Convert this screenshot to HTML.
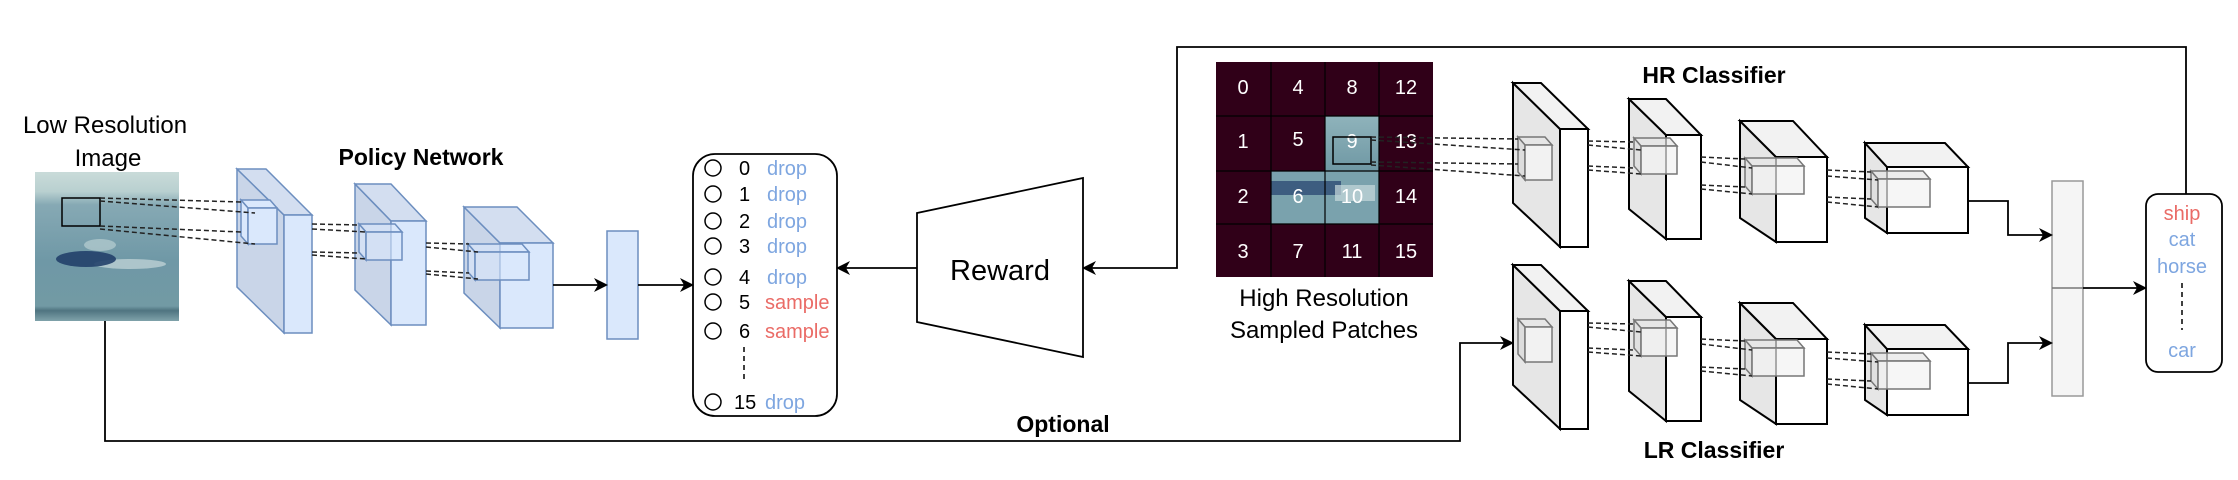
<!DOCTYPE html>
<html><head><meta charset="utf-8"><style>
html,body{margin:0;padding:0;background:#fff;width:2238px;height:480px;overflow:hidden}
svg{display:block}
text{font-family:"Liberation Sans",Arial,sans-serif}
</style></head><body>
<svg width="2238" height="480" viewBox="0 0 2238 480" xmlns="http://www.w3.org/2000/svg">
<defs>
<marker id="ah" markerWidth="14" markerHeight="14" refX="12" refY="7" orient="auto" markerUnits="userSpaceOnUse">
<path d="M0,0 L14,7 L0,14 L4,7 Z" fill="#000"/></marker>
<linearGradient id="img" x1="0" y1="0" x2="0" y2="1">
<stop offset="0" stop-color="#c9dbd9"/><stop offset="0.13" stop-color="#b9d0d0"/><stop offset="0.22" stop-color="#86a9b4"/>
<stop offset="0.6" stop-color="#6f98a6"/><stop offset="0.9" stop-color="#729aa4"/><stop offset="0.93" stop-color="#4f7480"/><stop offset="1" stop-color="#7fa2aa"/></linearGradient>
<linearGradient id="pimg" x1="0" y1="0" x2="0" y2="1">
<stop offset="0" stop-color="#8fb3bb"/><stop offset="1" stop-color="#6f98a4"/></linearGradient>
</defs>

<text x="105" y="133" font-size="24" text-anchor="middle">Low Resolution</text>
<text x="108" y="166" font-size="24" text-anchor="middle">Image</text>
<rect x="35" y="172" width="144" height="149" fill="url(#img)"/>
<ellipse cx="100" cy="245" rx="16" ry="6" fill="#b8cfd2" opacity="0.7"/>
<ellipse cx="130" cy="264" rx="36" ry="5" fill="#c7d9db" opacity="0.7"/>
<ellipse cx="86" cy="259" rx="30" ry="8" fill="#22406a" opacity="0.9"/>
<rect x="62" y="198" width="38" height="28" fill="none" stroke="#000" stroke-width="1.5"/>

<text x="421" y="165" font-size="23" font-weight="bold" text-anchor="middle">Policy Network</text>

<g stroke="#6c8ebf" stroke-width="1.5">
<polygon points="237,169 284,215 284,333 237,287" fill="#c9d5e8"/>
<polygon points="237,169 266,169 312,215 284,215" fill="#d3def0"/>
<rect x="284" y="215" width="28" height="118" fill="#dae8fc"/>
<polygon points="355,184 391,221 391,325 355,290" fill="#c9d5e8"/>
<polygon points="355,184 391,184 426,221 391,221" fill="#d3def0"/>
<rect x="391" y="221" width="35" height="104" fill="#dae8fc"/>
<polygon points="464,207 500,243 500,328 464,293" fill="#c9d5e8"/>
<polygon points="464,207 517,207 553,243 500,243" fill="#d3def0"/>
<rect x="500" y="243" width="53" height="85" fill="#dae8fc"/>
<polygon points="241,200 270,200 277,208 248,208" fill="#dae8fc"/><polygon points="241,200 248,208 248,244 241,236" fill="#dae8fc"/><rect x="248" y="208" width="29" height="36" fill="#dae8fc"/>
<polygon points="359,224 395,224 402,232 366,232" fill="#dae8fc" fill-opacity="0.6"/><polygon points="359,224 366,232 366,260 359,252" fill="#dae8fc" fill-opacity="0.6"/><rect x="366" y="232" width="36" height="28" fill="#dae8fc" fill-opacity="0.6"/>
<polygon points="468,244 522,244 529,252 475,252" fill="#dae8fc" fill-opacity="0.6"/><polygon points="468,244 475,252 475,280 468,272" fill="#dae8fc" fill-opacity="0.6"/><rect x="475" y="252" width="54" height="28" fill="#dae8fc" fill-opacity="0.6"/>
<rect x="607" y="231" width="31" height="108" fill="#dae8fc"/>
</g>

<g stroke="#222" stroke-width="1.5" stroke-dasharray="5,3" fill="none">
<line x1="100" y1="198" x2="241" y2="202"/><line x1="100" y1="201" x2="255" y2="213"/>
<line x1="100" y1="226" x2="241" y2="232"/><line x1="100" y1="229" x2="255" y2="244"/>
<line x1="312" y1="224" x2="359" y2="225"/><line x1="312" y1="229" x2="366" y2="232"/>
<line x1="312" y1="252" x2="359" y2="253"/><line x1="312" y1="255" x2="366" y2="259"/>
<line x1="426" y1="243" x2="469" y2="244"/><line x1="426" y1="247" x2="478" y2="252"/>
<line x1="426" y1="271" x2="469" y2="273"/><line x1="426" y1="274" x2="478" y2="279"/>
</g>

<g stroke="#000" stroke-width="1.8" fill="none">
<line x1="553" y1="285" x2="606" y2="285" marker-end="url(#ah)"/>
<line x1="638" y1="285" x2="692" y2="285" marker-end="url(#ah)"/>
<polyline points="105,321 105,441 1460,441 1460,343 1512,343" marker-end="url(#ah)"/>
<line x1="917" y1="268" x2="838" y2="268" marker-end="url(#ah)"/>
<polyline points="2186,194 2186,47 1177,47 1177,268 1084,268" marker-end="url(#ah)"/>
</g>

<rect x="693" y="154" width="144" height="262" rx="22" fill="none" stroke="#000" stroke-width="1.8"/>
<g fill="none" stroke="#000" stroke-width="1.5">
<circle cx="713" cy="168" r="8"/><circle cx="713" cy="194" r="8"/><circle cx="713" cy="221" r="8"/><circle cx="713" cy="246" r="8"/>
<circle cx="713" cy="277" r="8"/><circle cx="713" cy="302" r="8"/><circle cx="713" cy="331" r="8"/><circle cx="713" cy="402" r="8"/>
<line x1="744" y1="347" x2="744" y2="383" stroke-dasharray="5,4"/>
</g>
<g font-size="20">
<text x="739" y="175">0</text><text x="767" y="175" fill="#7ea6e0">drop</text>
<text x="739" y="201">1</text><text x="767" y="201" fill="#7ea6e0">drop</text>
<text x="739" y="228">2</text><text x="767" y="228" fill="#7ea6e0">drop</text>
<text x="739" y="253">3</text><text x="767" y="253" fill="#7ea6e0">drop</text>
<text x="739" y="284">4</text><text x="767" y="284" fill="#7ea6e0">drop</text>
<text x="739" y="309">5</text><text x="765" y="309" fill="#ea6b66">sample</text>
<text x="739" y="338">6</text><text x="765" y="338" fill="#ea6b66">sample</text>
<text x="734" y="409">15</text><text x="765" y="409" fill="#7ea6e0">drop</text>
</g>

<polygon points="917,213 1083,178 1083,357 917,322" fill="#fff" stroke="#000" stroke-width="1.8"/>
<text x="1000" y="280" font-size="29" text-anchor="middle">Reward</text>

<rect x="1216" y="62" width="217" height="215" fill="#300018"/>
<rect x="1325" y="116" width="54" height="55" fill="url(#pimg)"/>
<rect x="1271" y="171" width="108" height="53" fill="#7aa2ad"/>
<rect x="1271" y="181" width="70" height="14" fill="#2e4c74" opacity="0.8"/>
<rect x="1335" y="185" width="40" height="16" fill="#c8dadc" opacity="0.7"/>
<g stroke="#000" stroke-width="1.2">
<line x1="1271" y1="62" x2="1271" y2="277"/><line x1="1325" y1="62" x2="1325" y2="277"/><line x1="1379" y1="62" x2="1379" y2="277"/>
<line x1="1216" y1="116" x2="1433" y2="116"/><line x1="1216" y1="171" x2="1433" y2="171"/><line x1="1216" y1="224" x2="1433" y2="224"/>
</g>
<g fill="#fff" font-size="20" text-anchor="middle">
<text x="1243" y="94">0</text><text x="1298" y="94">4</text><text x="1352" y="94">8</text><text x="1406" y="94">12</text>
<text x="1243" y="148">1</text><text x="1298" y="146">5</text><text x="1352" y="148">9</text><text x="1406" y="148">13</text>
<text x="1243" y="203">2</text><text x="1298" y="203">6</text><text x="1352" y="203">10</text><text x="1406" y="203">14</text>
<text x="1243" y="258">3</text><text x="1298" y="258">7</text><text x="1352" y="258">11</text><text x="1406" y="258">15</text>
</g>
<rect x="1333" y="137" width="38" height="27" fill="none" stroke="#000" stroke-width="1.5"/>
<text x="1324" y="306" font-size="24" text-anchor="middle">High Resolution</text>
<text x="1324" y="338" font-size="24" text-anchor="middle">Sampled Patches</text>

<text x="1063" y="432" font-size="23" font-weight="bold" text-anchor="middle">Optional</text>
<text x="1714" y="83" font-size="23" font-weight="bold" text-anchor="middle">HR Classifier</text>
<text x="1714" y="458" font-size="23" font-weight="bold" text-anchor="middle">LR Classifier</text>

<g stroke="#000" stroke-width="2">
<polygon points="1513,83 1560,129 1560,247 1513,203" fill="#e6e6e6"/>
<polygon points="1513,83 1541,83 1588,129 1560,129" fill="#f2f2f2"/>
<rect x="1560" y="129" width="28" height="118" fill="#fff"/>
<polygon points="1629,99 1666,135 1666,239 1629,209" fill="#e6e6e6"/>
<polygon points="1629,99 1666,99 1701,135 1666,135" fill="#f2f2f2"/>
<rect x="1666" y="135" width="35" height="104" fill="#fff"/>
<polygon points="1740,121 1776,157 1776,242 1740,218" fill="#e6e6e6"/>
<polygon points="1740,121 1793,121 1827,157 1776,157" fill="#f2f2f2"/>
<rect x="1776" y="157" width="51" height="85" fill="#fff"/>
<polygon points="1865,143 1887,167 1887,233 1865,218" fill="#e6e6e6"/>
<polygon points="1865,143 1945,143 1968,167 1887,167" fill="#f2f2f2"/>
<rect x="1887" y="167" width="81" height="66" fill="#fff"/>
<g stroke="#777" stroke-width="1.5">
<polygon points="1518,137 1545,137 1552,145 1525,145" fill="#e6e6e6"/><polygon points="1518,137 1525,145 1525,180 1518,172" fill="#ddd"/><rect x="1525" y="145" width="27" height="35" fill="#f2f2f2"/>
<polygon points="1634,138 1670,138 1677,146 1641,146" fill="#e6e6e6" fill-opacity="0.7"/><polygon points="1634,138 1641,146 1641,174 1634,166" fill="#ddd" fill-opacity="0.7"/><rect x="1641" y="146" width="36" height="28" fill="#f2f2f2" fill-opacity="0.7"/>
<polygon points="1745,158 1797,158 1804,166 1752,166" fill="#e6e6e6" fill-opacity="0.7"/><polygon points="1745,158 1752,166 1752,194 1745,186" fill="#ddd" fill-opacity="0.7"/><rect x="1752" y="166" width="52" height="28" fill="#f2f2f2" fill-opacity="0.7"/>
<polygon points="1871,171 1923,171 1930,179 1878,179" fill="#e6e6e6" fill-opacity="0.7"/><polygon points="1871,171 1878,179 1878,207 1871,199" fill="#ddd" fill-opacity="0.7"/><rect x="1878" y="179" width="52" height="28" fill="#f2f2f2" fill-opacity="0.7"/>
</g>
<g stroke="#222" stroke-width="1.5" stroke-dasharray="5,3" fill="none">
<line x1="1588" y1="141" x2="1634" y2="142"/><line x1="1588" y1="145" x2="1641" y2="150"/>
<line x1="1588" y1="166" x2="1634" y2="168"/><line x1="1588" y1="170" x2="1641" y2="174"/>
<line x1="1701" y1="157" x2="1745" y2="159"/><line x1="1701" y1="162" x2="1752" y2="168"/>
<line x1="1701" y1="185" x2="1745" y2="187"/><line x1="1701" y1="189" x2="1752" y2="194"/>
<line x1="1827" y1="170" x2="1871" y2="172"/><line x1="1827" y1="176" x2="1878" y2="180"/>
<line x1="1827" y1="197" x2="1871" y2="199"/><line x1="1827" y1="202" x2="1878" y2="207"/>
</g>
</g>
<g stroke="#222" stroke-width="1.5" stroke-dasharray="5,3" fill="none">
<line x1="1371" y1="137" x2="1518" y2="139"/><line x1="1371" y1="140" x2="1525" y2="150"/>
<line x1="1371" y1="162" x2="1518" y2="164"/><line x1="1371" y1="165" x2="1525" y2="176"/>
</g>
<g transform="translate(0,182)" stroke="#000" stroke-width="2">
<polygon points="1513,83 1560,129 1560,247 1513,203" fill="#e6e6e6"/>
<polygon points="1513,83 1541,83 1588,129 1560,129" fill="#f2f2f2"/>
<rect x="1560" y="129" width="28" height="118" fill="#fff"/>
<polygon points="1629,99 1666,135 1666,239 1629,209" fill="#e6e6e6"/>
<polygon points="1629,99 1666,99 1701,135 1666,135" fill="#f2f2f2"/>
<rect x="1666" y="135" width="35" height="104" fill="#fff"/>
<polygon points="1740,121 1776,157 1776,242 1740,218" fill="#e6e6e6"/>
<polygon points="1740,121 1793,121 1827,157 1776,157" fill="#f2f2f2"/>
<rect x="1776" y="157" width="51" height="85" fill="#fff"/>
<polygon points="1865,143 1887,167 1887,233 1865,218" fill="#e6e6e6"/>
<polygon points="1865,143 1945,143 1968,167 1887,167" fill="#f2f2f2"/>
<rect x="1887" y="167" width="81" height="66" fill="#fff"/>
<g stroke="#777" stroke-width="1.5">
<polygon points="1518,137 1545,137 1552,145 1525,145" fill="#e6e6e6"/><polygon points="1518,137 1525,145 1525,180 1518,172" fill="#ddd"/><rect x="1525" y="145" width="27" height="35" fill="#f2f2f2"/>
<polygon points="1634,138 1670,138 1677,146 1641,146" fill="#e6e6e6" fill-opacity="0.7"/><polygon points="1634,138 1641,146 1641,174 1634,166" fill="#ddd" fill-opacity="0.7"/><rect x="1641" y="146" width="36" height="28" fill="#f2f2f2" fill-opacity="0.7"/>
<polygon points="1745,158 1797,158 1804,166 1752,166" fill="#e6e6e6" fill-opacity="0.7"/><polygon points="1745,158 1752,166 1752,194 1745,186" fill="#ddd" fill-opacity="0.7"/><rect x="1752" y="166" width="52" height="28" fill="#f2f2f2" fill-opacity="0.7"/>
<polygon points="1871,171 1923,171 1930,179 1878,179" fill="#e6e6e6" fill-opacity="0.7"/><polygon points="1871,171 1878,179 1878,207 1871,199" fill="#ddd" fill-opacity="0.7"/><rect x="1878" y="179" width="52" height="28" fill="#f2f2f2" fill-opacity="0.7"/>
</g>
<g stroke="#222" stroke-width="1.5" stroke-dasharray="5,3" fill="none">
<line x1="1588" y1="141" x2="1634" y2="142"/><line x1="1588" y1="145" x2="1641" y2="150"/>
<line x1="1588" y1="166" x2="1634" y2="168"/><line x1="1588" y1="170" x2="1641" y2="174"/>
<line x1="1701" y1="157" x2="1745" y2="159"/><line x1="1701" y1="162" x2="1752" y2="168"/>
<line x1="1701" y1="185" x2="1745" y2="187"/><line x1="1701" y1="189" x2="1752" y2="194"/>
<line x1="1827" y1="170" x2="1871" y2="172"/><line x1="1827" y1="176" x2="1878" y2="180"/>
<line x1="1827" y1="197" x2="1871" y2="199"/><line x1="1827" y1="202" x2="1878" y2="207"/>
</g>
</g>

<rect x="2052" y="181" width="31" height="215" fill="#f5f5f5" stroke="#999" stroke-width="1.5"/>
<line x1="2052" y1="288" x2="2083" y2="288" stroke="#777" stroke-width="1.5"/>
<g stroke="#000" stroke-width="1.8" fill="none">
<polyline points="1968,201 2008,201 2008,235 2051,235" marker-end="url(#ah)"/>
<polyline points="1968,383 2008,383 2008,343 2051,343" marker-end="url(#ah)"/>
<line x1="2083" y1="288" x2="2145" y2="288" marker-end="url(#ah)"/>
</g>
<rect x="2146" y="194" width="76" height="178" rx="12" fill="#fff" stroke="#000" stroke-width="1.8"/>
<g font-size="20" text-anchor="middle">
<text x="2182" y="220" fill="#ea6b66">ship</text>
<text x="2182" y="246" fill="#7ea6e0">cat</text>
<text x="2182" y="273" fill="#7ea6e0">horse</text>
<text x="2182" y="357" fill="#7ea6e0">car</text>
</g>
<line x1="2182" y1="283" x2="2182" y2="330" stroke="#000" stroke-width="1.5" stroke-dasharray="5,4"/>
</svg>
</body></html>
